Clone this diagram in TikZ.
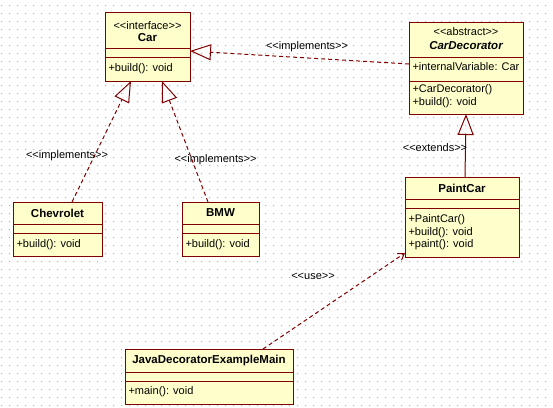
\documentclass[tikz,border=0pt]{standalone}
\usepackage{fontspec}
\setmainfont{Liberation Sans}
\usetikzlibrary{arrows.meta}
\definecolor{boxfill}{RGB}{255,255,204}
\definecolor{uml}{RGB}{128,0,0}
\definecolor{griddot}{RGB}{175,175,175}
\newcommand\stereotxt[1]{<\kern0pt<#1>\kern0pt>}
\begin{document}
\begin{tikzpicture}[x=1pt,y=-1pt,
  every node/.style={font=\fontsize{11}{12.5}\selectfont, inner sep=0pt, outer sep=0pt},
  classbox/.style={draw=uml, fill=boxfill, line width=1pt, anchor=north west},
  sepline/.style={draw=uml, line width=1pt},
  cname/.style={font=\fontsize{11.5}{12.5}\selectfont\bfseries},
  member/.style={anchor=west, align=left},
  stereo/.style={font=\fontsize{11}{12.5}\selectfont},
  conn/.style={draw=uml, line width=1pt},
  realize/.style={conn, dash pattern=on 4pt off 3pt, -{Triangle[open,length=21pt,width=16pt]}},
  generalize/.style={conn, -{Triangle[open,length=21pt,width=16pt]}},
  usedep/.style={conn, dash pattern=on 4pt off 3pt, -{Straight Barb[length=6pt,width=8pt]}},
  clabel/.style={font=\fontsize{11}{12.5}\selectfont}
]
\useasboundingbox (0,0) rectangle (553,407);
\fill[white] (0,0) rectangle (553,407);
% grid of dots
\fill[griddot] \foreach \i in {0,...,68} { \foreach \j in {0,...,50} { (1+8*\i,5+8*\j) rectangle ++(1,1) } };

% ---- Car ----
\node[classbox, minimum width=85pt, minimum height=69pt] (car) at (105,12) {};
\draw[sepline] (105,48) -- (190,48);
\draw[sepline] (105,57) -- (190,57);
\node[stereo] (carst) at (147.5,25.5) {\stereotxt{interface}};
\node[cname] (carname) at (147.5,37.7) {Car};
\node[member] (carops) at (108.5,69) {+build(): void};

% ---- CarDecorator ----
\node[classbox, minimum width=114pt, minimum height=92pt] (cardec) at (409,22) {};
\draw[sepline] (409,57) -- (523,57);
\draw[sepline] (409,81) -- (523,81);
\node[stereo] (cdst) at (466,32) {\stereotxt{abstract}};
\node[cname, font=\fontsize{11.5}{12.5}\selectfont\bfseries\itshape] (cdname) at (466,45.5) {CarDecorator};
\node[member] (cdattr) at (412.5,67) {+internalVariable: Car};
\node[member] (cdops) at (412.5,96.3) {+CarDecorator()\\+build(): void};

% ---- PaintCar ----
\node[classbox, minimum width=114pt, minimum height=80pt] (paint) at (405,177) {};
\draw[sepline] (405,199) -- (519,199);
\draw[sepline] (405,208) -- (519,208);
\node[cname] (pname) at (462,188) {PaintCar};
\node[member] (pops) at (408.5,232.5) {+PaintCar()\\+build(): void\\+paint(): void};

% ---- Chevrolet ----
\node[classbox, minimum width=89pt, minimum height=54pt] (chev) at (13,202) {};
\draw[sepline] (13,224) -- (102,224);
\draw[sepline] (13,233) -- (102,233);
\node[cname] (chname) at (57.5,213) {Chevrolet};
\node[member] (chops) at (16.5,244.5) {+build(): void};

% ---- BMW ----
\node[classbox, minimum width=77pt, minimum height=54pt] (bmw) at (182,202) {};
\draw[sepline] (182,224) -- (259,224);
\draw[sepline] (182,233) -- (259,233);
\node[cname] (bmname) at (220.5,213) {BMW};
\node[member] (bmops) at (185.5,244.5) {+build(): void};

% ---- JavaDecoratorExampleMain ----
\node[classbox, minimum width=168pt, minimum height=55pt] (main) at (125,349) {};
\draw[sepline] (125,372) -- (293,372);
\draw[sepline] (125,381) -- (293,381);
\node[cname] (mname) at (209,361) {JavaDecoratorExampleMain};
\node[member] (mops) at (128.5,392) {+main(): void};

% ---- attachment points ----
\coordinate (carR) at (190,51);
\coordinate (carB1) at (131,81);
\coordinate (carB2) at (162,81);
\coordinate (cdL) at (409,64);
\coordinate (cdB) at (466,114);
\coordinate (chT) at (72,202);
\coordinate (bmT) at (208,202);
\coordinate (pT) at (465,177);
\coordinate (pL) at (405,253);
\coordinate (mT) at (263,349);

% ---- connectors ----
\draw[realize] (cdL) -- (carR);
\draw[realize] (chT) -- (carB1);
\draw[realize] (bmT) -- (carB2);
\draw[generalize] (pT) -- (cdB);
\draw[usedep] (mT) -- (pL);

% ---- labels ----
\node[clabel] (l1) at (307,47) {\stereotxt{implements}};
\node[clabel] (l2) at (67,155.5) {\stereotxt{implements}};
\node[clabel] (l3) at (215.5,159.5) {\stereotxt{implements}};
\node[clabel] (l4) at (435,148) {\stereotxt{extends}};
\node[clabel] (l5) at (313,276.5) {\stereotxt{use}};
\end{tikzpicture}
\end{document}
